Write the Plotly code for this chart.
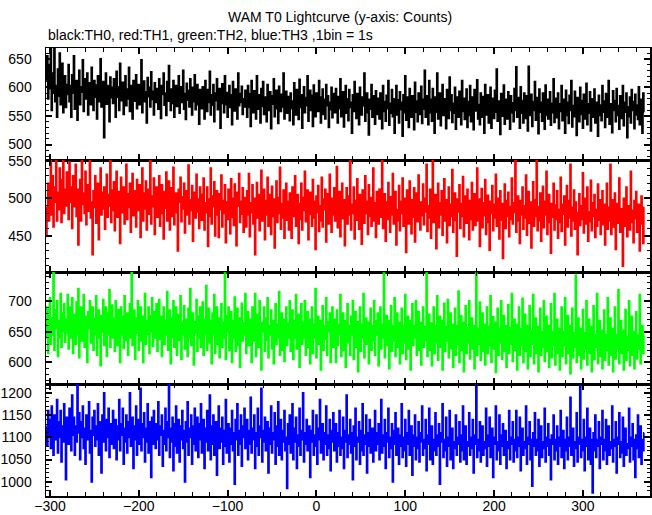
import plotly.graph_objects as go
from plotly.subplots import make_subplots

# ---- data: counts per 1-s bin, first bin at t = -304 s ----
t_start = -304

th0 = [
    612, 655, 580, 640, 598, 671, 560, 625, 590, 668, 575, 603, 548, 632, 585, 660, 570, 615, 642, 556, 598, 620, 565, 605, 588,
    640, 575, 603, 548, 622, 590, 655, 562, 598, 612, 543, 585, 630, 570, 601, 592, 648, 558, 615, 580, 596, 625, 552, 608, 587,
    570, 635, 598, 560, 612, 583, 604, 545, 620, 592, 575, 650, 566, 599, 610, 512, 588, 625, 571, 603, 594, 540, 618, 582, 600,
    572, 615, 590, 548, 628, 583, 601, 560, 642, 577, 594, 609, 553, 586, 620, 568, 597, 580, 635, 558, 603, 590, 545, 612, 576,
    599, 622, 563, 588, 605, 570, 596, 648, 556, 583, 611, 575, 592, 538, 617, 584, 600, 566, 627, 579, 593, 552, 608, 587, 574,
    598, 562, 615, 580, 546, 603, 588, 625, 569, 590, 551, 610, 576, 638, 583, 560, 597, 572, 612, 548, 585, 603, 567, 592, 620,
    555, 580, 601, 574, 630, 562, 589, 544, 607, 578, 595, 566, 615, 583, 552, 600, 575, 622, 561, 587, 605, 570, 536, 596, 581,
    563, 601, 579, 545, 612, 585, 558, 596, 574, 628, 552, 587, 569, 605, 540, 590, 577, 615, 561, 583, 598, 529, 572, 606, 585,
    556, 620, 570, 591, 548, 580, 603, 565, 587, 535, 610, 576, 559, 597, 582, 545, 625, 568, 589, 574, 602, 553, 580, 566, 595,
    577, 548, 603, 565, 589, 532, 612, 571, 556, 594, 580, 545, 620, 562, 587, 575, 538, 598, 567, 610, 553, 583, 569, 540, 605,
    577, 560, 592, 528, 585, 571, 615, 549, 580, 595, 563, 537, 602, 574, 558, 588, 566, 625, 545, 578, 593, 555, 570, 584, 542,
    590, 563, 576, 535, 608, 570, 552, 596, 581, 544, 614, 565, 587, 529, 573, 601, 556, 582, 568, 620, 541, 577, 595, 560, 586,
    532, 604, 571, 549, 590, 575, 558, 612, 566, 538, 583, 597, 553, 579, 545, 605, 568, 585, 530, 574, 561, 600, 547, 589, 572,
    556, 598, 570, 538, 584, 563, 615, 549, 577, 592, 531, 568, 603, 555, 580, 542, 596, 565, 574, 520, 587, 558, 610, 572, 546,
    589, 564, 535, 600, 577, 552, 583, 568, 625, 541, 573, 590, 556, 517, 579, 562, 605, 548, 585, 570, 536, 594, 566, 553, 581,
    545, 590, 567, 528, 603, 558, 575, 541, 586, 563, 612, 534, 572, 555, 596, 549, 580, 520, 565, 603, 552, 578, 538, 592, 561,
    574, 515, 587, 556, 620, 543, 570, 583, 530, 598, 564, 548, 585, 571, 526, 609, 557, 576, 540, 590, 566, 553, 602, 537, 579,
    562, 630, 548, 585, 571, 535, 612, 556, 579, 541, 598, 566, 520, 583, 557, 625, 545, 572, 590, 533, 568, 605, 551, 580, 563,
    528, 596, 575, 546, 618, 560, 587, 539, 572, 555, 600, 527, 583, 566, 548, 593, 570, 535, 612, 558, 581, 544, 566, 597, 530,
    575, 551, 603, 540, 583, 567, 526, 596, 559, 578, 613, 545, 570, 535, 590, 562, 548, 584, 520, 605, 566, 552, 587, 538, 574,
    600, 529, 563, 581, 546, 595, 557, 632, 541, 576, 560, 518, 589, 571, 550, 604, 536, 579, 563, 545, 592, 568, 527, 585, 556,
    573, 540, 598, 560, 636, 548, 582, 567, 529, 601, 555, 577, 538, 590, 562, 546, 585, 524, 637, 570, 551, 588, 532, 575, 560,
    610, 543, 566, 582, 519, 597, 557, 574, 541, 590, 563, 527, 604, 551, 579, 545, 568, 592, 534, 572, 556, 615, 539, 581, 562,
    547, 590, 528, 571, 558, 603, 542, 579, 563, 520, 595, 551, 574, 537, 586, 560, 612, 531, 568, 549, 593, 557, 516, 582, 566,
    540, 600, 553, 577, 529, 588, 562, 545, 607, 535, 571, 555, 592, 524, 580, 563, 548, 597, 538, 574, 559, 515, 586, 551, 569,
    542, 603, 557, 576, 530, 589, 565, 548, 612, 536, 571, 554, 521, 594, 560, 577, 540, 598, 551, 568, 527, 585, 562, 546, 603,
    533, 574, 557, 590, 512, 566, 549, 583, 538, 596, 560, 575, 528, 588, 552, 569, 544, 601, 535, 563, 579, 520, 590, 557,
]

th1 = [
    450, 488, 520, 470, 505, 552, 478, 530, 462, 515, 495, 555, 470, 508, 485, 540, 498, 468, 525, 552, 480, 512, 490, 535, 503,
    472, 548, 495, 515, 460, 530, 489, 505, 545, 476, 512, 438, 498, 525, 470, 553, 492, 507, 480, 536, 465, 500, 518, 483, 552,
    474, 495, 425, 510, 488, 530, 467, 502, 520, 445, 493, 540, 478, 508, 486, 515, 459, 497, 532, 475, 505, 490, 550, 468, 511,
    484, 522, 457, 498, 536, 475, 509, 490, 440, 528, 481, 503, 515, 466, 494, 545, 472, 506, 488, 520, 455, 499, 533, 477, 510,
    492, 462, 525, 484, 500, 518, 448, 495, 540, 470, 507, 486, 523, 458, 497, 512, 479, 550, 466, 503, 489, 527, 452, 494, 515,
    475, 504, 530, 463, 492, 518, 480, 446, 509, 487, 535, 470, 500, 523, 458, 496, 514, 476, 541, 465, 490, 507, 481, 430, 512,
    495, 528, 469, 502, 486, 520, 454, 493, 510, 478, 544, 466, 498, 484, 517, 443, 491, 508, 474, 532, 482, 499, 460, 515, 488,
    471, 505, 527, 458, 494, 481, 515, 436, 499, 476, 540, 466, 503, 489, 522, 450, 492, 510, 478, 448, 506, 485, 531, 462, 497,
    480, 518, 441, 495, 472, 512, 487, 453, 526, 475, 500, 464, 519, 483, 437, 508, 490, 533, 468, 496, 479, 514, 455, 501, 486,
    462, 510, 478, 533, 449, 494, 481, 518, 466, 500, 425, 488, 521, 474, 505, 457, 492, 537, 470, 483, 512, 445, 497, 478, 528,
    463, 490, 505, 452, 516, 476, 499, 434, 486, 523, 468, 501, 480, 541, 459, 493, 474, 511, 447, 489, 520, 471, 496, 458, 507,
    482, 447, 515, 476, 498, 530, 463, 487, 505, 440, 493, 472, 520, 458, 501, 484, 536, 469, 492, 511, 445, 479, 508, 488, 463,
    525, 474, 496, 432, 503, 481, 517, 456, 490, 470, 528, 462, 499, 485, 512, 442, 477, 506, 466, 532, 489, 455, 500, 478, 514,
    470, 495, 542, 461, 487, 509, 449, 483, 520, 473, 498, 437, 491, 514, 466, 503, 478, 551, 458, 492, 480, 515, 446, 497, 471,
    526, 485, 459, 505, 474, 439, 511, 488, 467, 530, 480, 496, 452, 518, 476, 501, 463, 486, 540, 470, 494, 448, 509, 482, 466,
    512, 475, 498, 553, 460, 488, 506, 443, 495, 472, 521, 484, 455, 502, 478, 533, 466, 491, 509, 438, 485, 470, 517, 457, 496,
    480, 527, 463, 500, 474, 428, 511, 487, 466, 523, 480, 453, 498, 475, 514, 442, 490, 507, 469, 531, 484, 458, 495, 477, 519,
    465, 500, 482, 545, 456, 490, 474, 512, 447, 496, 553, 468, 487, 505, 433, 479, 520, 461, 494, 478, 510, 451, 486, 526, 470,
    498, 441, 483, 515, 464, 492, 476, 538, 455, 489, 507, 471, 423, 499, 482, 518, 460, 493, 476, 529, 449, 487, 503, 467, 512,
    478, 445, 497, 472, 521, 458, 490, 506, 464, 485, 540, 470, 499, 436, 482, 513, 461, 494, 477, 525, 452, 488, 504, 468, 431,
    496, 480, 517, 457, 492, 474, 532, 463, 500, 485, 446, 510, 471, 493, 420, 484, 519, 460, 497, 476, 508, 449, 489, 472, 527,
    466, 494, 481, 552, 455, 488, 503, 470, 440, 497, 478, 515, 459, 490, 474, 531, 451, 486, 509, 467, 495, 434, 480, 522, 463,
    498, 476, 553, 457, 489, 470, 507, 443, 484, 516, 461, 496, 478, 536, 452, 487, 505, 468, 427, 493, 475, 520, 458, 491, 472,
    510, 447, 485, 468, 528, 456, 492, 479, 503, 438, 483, 517, 462, 497, 474, 545, 450, 488, 470, 511, 459, 495, 481, 425, 476,
    506, 464, 490, 472, 534, 454, 487, 500, 466, 515, 443, 482, 469, 524, 457, 494, 476, 505, 448, 485, 463, 519, 471, 498, 452,
    480, 510, 465, 492, 438, 477, 520, 459, 488, 470, 545, 452, 484, 498, 462, 507, 432, 479, 493, 467, 527, 455, 486, 472, 410,
    500, 463, 481, 515, 449, 476, 490, 458, 536, 468, 484, 441, 497, 473, 509, 455, 478, 492, 430, 466, 503, 474, 440, 488,
]

th2 = [
    640, 690, 615, 660, 705, 630, 672, 645, 750, 620, 685, 655, 700, 610, 668, 640, 712, 625, 680, 650, 695, 633, 670, 648, 710,
    622, 665, 690, 640, 705, 615, 678, 652, 630, 698, 645, 720, 608, 668, 690, 635, 660, 710, 625, 675, 648, 600, 682, 655, 700,
    632, 664, 690, 620, 672, 645, 708, 612, 660, 685, 640, 595, 676, 650, 702, 628, 665, 690, 610, 680, 645, 718, 625, 660, 693,
    640, 672, 618, 700, 650, 628, 686, 662, 600, 690, 645, 675, 623, 708, 655, 636, 680, 612, 665, 695, 640, 748, 628, 660, 685,
    605, 672, 648, 700, 620, 662, 690, 635, 675, 600, 655, 712, 630, 668, 645, 690, 615, 676, 650, 705, 626, 660, 682, 640, 695,
    618, 664, 702, 638, 675, 610, 655, 690, 630, 668, 645, 715, 620, 660, 685, 598, 672, 640, 700, 625, 662, 690, 612, 650, 678,
    636, 708, 605, 665, 645, 692, 622, 670, 655, 610, 688, 640, 720, 628, 660, 680, 596, 666, 648, 702, 618, 675, 640, 690, 625,
    660, 698, 612, 670, 645, 725, 620, 655, 688, 632, 668, 598, 680, 645, 710, 615, 662, 690, 630, 672, 608, 650, 695, 625, 665,
    640, 745, 605, 676, 650, 690, 620, 658, 682, 600, 668, 640, 706, 618, 662, 688, 628, 672, 592, 655, 696, 635, 664, 645, 712,
    615, 660, 682, 628, 670, 645, 600, 690, 635, 662, 712, 610, 655, 678, 625, 700, 640, 588, 665, 650, 690, 618, 672, 636, 705,
    608, 660, 645, 685, 622, 668, 598, 650, 695, 630, 662, 640, 715, 612, 655, 680, 620, 670, 602, 648, 690, 628, 664, 640, 700,
    618, 655, 685, 605, 668, 640, 710, 622, 660, 678, 592, 650, 695, 630, 665, 640, 700, 612, 658, 682, 625, 670, 598, 648, 690,
    615, 662, 640, 720, 608, 655, 675, 630, 668, 588, 645, 692, 620, 660, 638, 705, 612, 666, 650, 680, 600, 658, 690, 625, 670,
    640, 600, 685, 628, 662, 645, 710, 610, 655, 680, 620, 668, 592, 650, 695, 632, 660, 612, 675, 645, 700, 605, 658, 682, 625,
    666, 585, 648, 690, 618, 662, 640, 712, 608, 655, 672, 630, 665, 598, 645, 688, 620, 660, 636, 700, 612, 668, 645, 680, 595,
    650, 690, 622, 662, 640, 745, 608, 655, 676, 628, 668, 590, 645, 692, 618, 660, 635, 705, 610, 652, 680, 625, 665, 598, 642,
    688, 615, 660, 632, 710, 605, 650, 675, 622, 668, 588, 645, 695, 628, 660, 640, 700, 612, 655, 682, 620, 665, 596, 648, 690,
    625, 658, 636, 745, 610, 650, 678, 620, 664, 595, 642, 690, 615, 660, 632, 708, 604, 652, 675, 625, 668, 588, 640, 696, 618,
    658, 635, 702, 608, 650, 680, 622, 662, 592, 645, 688, 612, 660, 630, 716, 600, 648, 676, 620, 665, 585, 640, 692, 615, 656,
    632, 700, 606, 650, 672, 622, 660, 590, 642, 745, 612, 655, 630, 698, 604, 648, 680, 618, 662, 596, 640, 690, 615, 658, 628,
    708, 600, 645, 674, 622, 665, 584, 640, 688, 612, 655, 632, 700, 605, 650, 676, 618, 660, 592, 642, 694, 615, 656, 630, 712,
    602, 648, 670, 620, 662, 588, 638, 690, 612, 655, 628, 704, 600, 645, 678, 618, 660, 590, 640, 692, 610, 652, 630, 710, 598,
    645, 672, 615, 658, 585, 636, 688, 612, 650, 625, 700, 602, 642, 675, 618, 660, 592, 638, 695, 608, 650, 628, 712, 596, 645,
    670, 615, 655, 588, 636, 690, 610, 650, 628, 705, 598, 642, 676, 615, 660, 582, 635, 688, 608, 648, 625, 742, 600, 640, 672,
    612, 655, 590, 632, 686, 606, 648, 622, 700, 596, 640, 670, 615, 658, 585, 630, 692, 605, 645, 625, 712, 598, 638, 668, 610,
    652, 590, 635, 685, 604, 645, 620, 705, 596, 638, 672, 612, 655, 585, 630, 690, 606, 645, 622, 718, 598, 640, 668, 615, 652,
    588, 632, 686, 604, 642, 620, 700, 595, 636, 675, 612, 650, 590, 628, 682, 606, 644, 622, 710, 598, 636, 660, 615, 645,
]

th3 = [
    1125, 1080, 1160, 1105, 1140, 1075, 1170, 1110, 1060, 1150, 1120, 1095, 1185, 1065, 1135, 1100, 1160, 1045, 1125, 1090, 1175, 1110, 1005, 1145, 1120,
    1085, 1165, 1130, 1070, 1195, 1105, 1145, 1060, 1125, 1090, 1220, 1110, 1155, 1050, 1135, 1100, 1170, 1075, 1120, 1040, 1150, 1095, 1130, 1180, 1065,
    1115, 1000, 1145, 1105, 1160, 1080, 1125, 1095, 1175, 1060, 1135, 1110, 1020, 1150, 1090, 1200, 1115, 1070, 1140, 1100, 1165, 1055, 1130, 1085, 1120,
    1160, 1075, 1110, 1140, 1050, 1125, 1095, 1185, 1070, 1130, 1105, 1165, 1040, 1120, 1090, 1150, 1065, 1135, 1100, 1200, 1080, 1115, 1145, 1030, 1125,
    1095, 1170, 1060, 1110, 1140, 1085, 1210, 1070, 1130, 1100, 1155, 1045, 1120, 1090, 1175, 1065, 1135, 1105, 1010, 1145, 1085, 1160, 1115, 1075, 1130,
    1095, 1180, 1060, 1125, 1105, 1150, 1035, 1115, 1085, 1165, 1070, 1135, 1100, 1220, 1055, 1120, 1090, 1145, 1025, 1130, 1080, 1170, 1065, 1110, 1140,
    1045, 1125, 1095, 1160, 1075, 1115, 1000, 1135, 1090, 1180, 1060, 1120, 1100, 1150, 1040, 1125, 1085, 1165, 1070, 1110, 1145, 1055, 1130, 1095, 1175,
    1065, 1115, 1140, 1030, 1120, 1090, 1160, 1070, 1105, 1195, 1050, 1125, 1085, 1150, 1060, 1110, 1135, 1015, 1100, 1170, 1075, 1120, 1090, 1145, 1040,
    1115, 1080, 1185, 1065, 1105, 1130, 1045, 1120, 1085, 1160, 1070, 1110, 995, 1140, 1095, 1175, 1060, 1115, 1085, 1150, 1035, 1125, 1100, 1165, 1075,
    1105, 1140, 1050, 1115, 1085, 1190, 1065, 1120, 1095, 1150, 1030, 1110, 1080, 1165, 1060, 1125, 1100, 1210, 1045, 1115, 1090, 1145, 1070, 1105, 1135,
    1020, 1120, 1085, 1170, 1065, 1110, 1095, 1155, 1040, 1125, 1080, 1180, 1060, 1105, 1140, 1050, 1115, 1090, 1160, 1070, 1100, 985, 1130, 1085, 1150,
    1065, 1110, 1175, 1050, 1120, 1090, 1145, 1030, 1105, 1080, 1165, 1060, 1115, 1095, 1200, 1045, 1110, 1085, 1140, 1070, 1100, 1125, 1010, 1115, 1090,
    1160, 1060, 1105, 1080, 1150, 1040, 1120, 1095, 1185, 1065, 1100, 1130, 1050, 1110, 1085, 1170, 1060, 1105, 1075, 1140, 1025, 1115, 1090, 1155, 1070,
    1095, 1130, 1045, 1110, 1080, 1160, 1060, 1100, 1075, 1145, 1030, 1115, 1090, 1195, 1055, 1105, 1085, 1140, 1065, 1110, 1005, 1125, 1080, 1165, 1050,
    1100, 1090, 1135, 1040, 1115, 1070, 1175, 1060, 1105, 1085, 1150, 1020, 1110, 1080, 1140, 1065, 1100, 1120, 1045, 1095, 1160, 1070, 1110, 1085, 1130,
    1050, 1100, 1185, 1065, 1105, 1080, 1140, 1030, 1110, 1090, 1165, 1055, 1100, 1075, 1130, 1000, 1115, 1085, 1155, 1060, 1095, 1120, 1040, 1105, 1080,
    1175, 1055, 1100, 1070, 1140, 1035, 1110, 1085, 1160, 1060, 1095, 1125, 1015, 1105, 1080, 1150, 1050, 1100, 1075, 1135, 1045, 1110, 1090, 1170, 1060,
    1095, 1075, 1140, 1025, 1105, 1085, 1165, 1050, 1100, 1125, 1040, 1095, 1070, 1155, 1060, 1105, 1080, 1130, 995, 1110, 1090, 1175, 1055, 1095, 1070,
    1145, 1035, 1100, 1080, 1160, 1050, 1105, 1120, 1030, 1090, 1075, 1150, 1060, 1100, 1085, 1135, 1045, 1105, 1070, 1170, 1050, 1095, 1125, 1040, 1090,
    1080, 1155, 1060, 1100, 1075, 1140, 1020, 1105, 1085, 1220, 1055, 1095, 1070, 1135, 1045, 1100, 1125, 1060, 1090, 1075, 1165, 1035, 1105, 1080, 1145,
    1055, 1095, 1120, 1010, 1100, 1085, 1170, 1050, 1090, 1070, 1150, 1040, 1105, 1080, 1130, 1060, 1095, 1115, 1030, 1090, 1075, 1160, 1050, 1100, 1085,
    1135, 1045, 1095, 1070, 1160, 1055, 1100, 1080, 1145, 1025, 1095, 1120, 1060, 1090, 1075, 1170, 1040, 1100, 1085, 1135, 1050, 1095, 990, 1110, 1080,
    1155, 1060, 1095, 1070, 1140, 1035, 1100, 1125, 1055, 1090, 1075, 1165, 1045, 1100, 1080, 1130, 1060, 1095, 1005, 1105, 1085, 1150, 1050, 1095, 1070,
    1125, 1040, 1100, 1080, 1160, 1055, 1090, 1115, 1030, 1095, 1070, 1145, 1050, 1100, 1080, 1190, 1060, 1095, 1120, 1035, 1090, 1075, 1155, 1045, 1100,
    1085, 1215, 1055, 1095, 1070, 1140, 1025, 1100, 1080, 1165, 1050, 1090, 1120, 1040, 1095, 975, 1110, 1070, 1150, 1055, 1095, 1080, 1135, 1030, 1100,
    1085, 1160, 1050, 1095, 1070, 1140, 1040, 1100, 1125, 1060, 1090, 1075, 1170, 1045, 1095, 1080, 1135, 1020, 1100, 1085, 1155, 1055, 1090, 1065, 1145,
    1035, 1095, 1120, 1060, 1085, 1075, 1165, 1045, 1100, 1080, 1130, 1050, 1095, 1010, 1105, 1075, 1150, 1055, 1090, 1125, 1040, 1095, 1070, 1110,
]

series = [("TH0", th0, "#000000"), ("TH1", th1, "#ff0000"),
          ("TH2", th2, "#00ff00"), ("TH3", th3, "#0000ff")]
y_ranges = [(473, 669), (402, 551), (565, 747), (968, 1220)]
x_range = (-304.5, 375.5)

FONT = "Liberation Sans, Arial, Helvetica, sans-serif"

fig = make_subplots(rows=4, cols=1, shared_xaxes=True, vertical_spacing=0)

for i, (name, vals, col) in enumerate(series, start=1):
    t = [t_start + k for k in range(len(vals))]
    fig.add_trace(go.Scatter(x=t, y=vals, mode="lines", name=name,
                             line=dict(color=col, width=1.8, shape="hvh"),
                             showlegend=False, hoverinfo="skip"), row=i, col=1)
    fig.update_yaxes(range=list(y_ranges[i - 1]), dtick=50, tick0=0,
                     minor=dict(dtick=10, ticklen=3, tickwidth=1, tickcolor="black", ticks="inside"),
                     row=i, col=1)
    fig.update_xaxes(range=list(x_range), dtick=100, tick0=0,
                     minor=dict(dtick=20, ticklen=4, tickwidth=1, tickcolor="black", ticks="inside"),
                     showticklabels=(i == 4), row=i, col=1)

axis_style = dict(showgrid=False, zeroline=False, showline=True, linecolor="black",
                  linewidth=1.5, mirror="allticks", ticks="inside", ticklen=6,
                  tickwidth=2, tickcolor="black", automargin=False,
                  tickfont=dict(family=FONT, size=14, color="black"))
fig.update_xaxes(**axis_style, ticklabelstandoff=-3)
fig.update_yaxes(**axis_style, ticklabelstandoff=10)

fig.add_annotation(text="WAM T0 Lightcurve (y-axis: Counts)", xref="paper", yref="paper",
                   x=0.4868, y=1.069, xanchor="center", yanchor="middle", showarrow=False,
                   font=dict(family=FONT, size=14, color="black"))
fig.add_annotation(text="black:TH0, red:TH1, green:TH2, blue:TH3 ,1bin = 1s",
                   xref="paper", yref="paper", x=0.0, y=1.029, xanchor="left",
                   yanchor="middle", showarrow=False,
                   font=dict(family=FONT, size=14, color="black"))

fig.update_layout(width=652, height=515, margin=dict(l=46, r=2, t=48, b=19),
                  paper_bgcolor="white", plot_bgcolor="white",
                  font=dict(family=FONT, size=14, color="black"))

# remove the default page margin so the figure sits at the window's corner
fig.write_html("out.html",
               config={"displayModeBar": False, "staticPlot": True},
               post_script="document.body.style.margin='0';document.body.style.overflow='hidden';")
